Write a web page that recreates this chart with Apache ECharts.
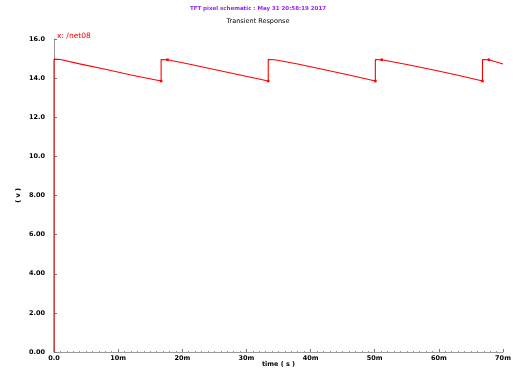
<!DOCTYPE html>
<html><head><meta charset="utf-8">
<script src="https://cdn.jsdelivr.net/npm/echarts@6/dist/echarts.min.js"></script>
<style>html,body{margin:0;padding:0;background:#fff}#c{width:516px;height:370px}</style>
</head><body><div id="c"></div>
<script>
var times = [0, 0, 1, 4, 8, 12, 16.7, 16.7, 17.7, 21, 25, 29, 33.4, 33.4, 34.4, 38, 42, 46, 50.1, 50.1, 51.1, 55, 59, 63, 66.8, 66.8, 67.8, 70];
var volts = [0, 14.97, 14.95, 14.73, 14.45, 14.16, 13.85, 14.95, 14.94, 14.72, 14.44, 14.16, 13.85, 14.95, 14.94, 14.72, 14.44, 14.16, 13.85, 14.95, 14.94, 14.70, 14.43, 14.15, 13.85, 14.95, 14.94, 14.72];
var marked = [6, 8, 12, 18, 20, 24, 26];
var xTickLabels = ['0.0', '10m', '20m', '30m', '40m', '50m', '60m', '70m'];
var yTickLabels = ['0.00', '2.00', '4.00', '6.00', '8.00', '10.0', '12.0', '14.0', '16.0'];
var seriesName = 'x: /net08';

var data = times.map(function (t, i) {
  var item = { value: [t, volts[i]] };
  item.symbolSize = marked.indexOf(i) >= 0 ? 2.5 : 0;
  return item;
});

var chart = echarts.init(document.getElementById('c'));
var lbl = { color: '#000', fontSize: 6.5, fontWeight: 'bold', fontFamily: 'DejaVu Sans' };
chart.setOption({
  animation: false,
  title: [
    { text: 'TFT pixel schematic : May 31 20:58:19 2017', left: 'center', top: 1,
      textStyle: { color: '#9922ee', fontSize: 5.5, fontWeight: 'bold', fontFamily: 'DejaVu Sans' } },
    { text: 'Transient Response', left: 'center', top: 13,
      textStyle: { color: '#000', fontSize: 6.5, fontWeight: 'normal', fontFamily: 'DejaVu Sans' } }
  ],
  graphic: [{ type: 'text', left: 57, top: 32, style: { text: seriesName, fill: '#ff0000', font: '7.5px DejaVu Sans' } }],
  grid: { left: 54, right: 13, top: 39, bottom: 18, outerBoundsMode: 'none', containLabel: false },
  xAxis: {
    type: 'value', min: 0, max: 70, interval: 10,
    name: 'time ( s )', nameLocation: 'middle', nameGap: 9, nameMoveOverlap: false,
    nameTextStyle: lbl,
    axisLine: { lineStyle: { color: '#999' } },
    axisTick: { inside: true, length: 3, lineStyle: { color: '#777' } },
    minorTick: { show: true, splitNumber: 10, length: 1, lineStyle: { color: '#999' } },
    splitLine: { show: false },
    axisLabel: Object.assign({ margin: 3, formatter: function (v) { return xTickLabels[Math.round(v / 10)]; } }, lbl)
  },
  yAxis: {
    type: 'value', min: 0, max: 16, interval: 2,
    name: '( v )', nameLocation: 'middle', nameGap: 32, nameMoveOverlap: false,
    nameTextStyle: lbl,
    axisLine: { show: true, lineStyle: { color: '#999' } },
    axisTick: { show: true, inside: true, length: 3, lineStyle: { color: '#777' } },
    minorTick: { show: true, splitNumber: 10, length: 1, lineStyle: { color: '#999' } },
    splitLine: { show: false },
    axisLabel: Object.assign({ margin: 9, formatter: function (v) { return yTickLabels[Math.round(v / 2)]; } }, lbl)
  },
  series: [{
    type: 'line', name: seriesName, data: data,
    symbol: 'rect', showAllSymbol: true,
    lineStyle: { color: '#ff0000', width: 1.1 },
    itemStyle: { color: '#ff0000' }
  }]
});
</script></body></html>
